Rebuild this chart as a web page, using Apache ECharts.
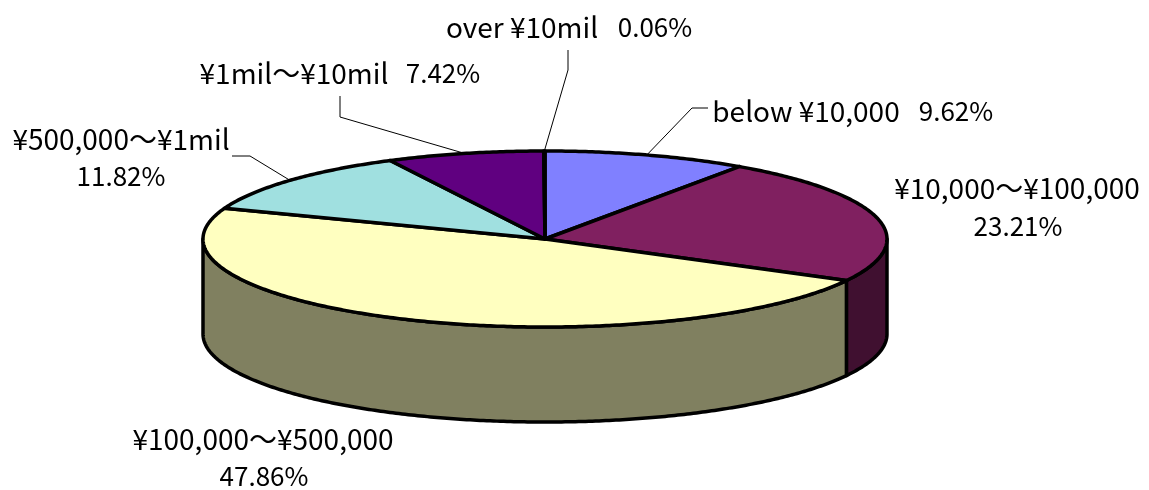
<!DOCTYPE html>
<html>
<head>
<meta charset="utf-8">
<style>html,body{margin:0;padding:0;background:#fff}#chart{width:1149px;height:490px}</style>
<script src="https://cdn.jsdelivr.net/npm/echarts@6/dist/echarts.min.js"></script>
</head>
<body>
<div id="chart"></div>
<script>
// Share of accounts by balance band, clockwise from twelve o'clock
const bands = ['below ¥10,000', '¥10,000～¥100,000', '¥100,000～¥500,000', '¥500,000～¥1mil', '¥1mil～¥10mil', 'over ¥10mil'];
const shares = [9.62, 23.21, 47.86, 11.82, 7.42, 0.06];
const topColors = ['#8080FF', '#802060', '#FFFFC0', '#A0E0E0', '#600080', '#FF8080'];
const wallColors = ['#404080', '#401030', '#808060', '#507070', '#300040', '#804040'];

// Disc geometry in pixels
const cx = 545, cy = 239, rx = 342, ry = 88, depth = 95;
const FONT = '"Noto Sans CJK JP", sans-serif';
const BAND_SIZE = 28, PCT_SIZE = 26;

// Label placement: centres of the band name and percent text, and the leader elbow points
const labelPlace = [
  { band: [806, 111], pct: [956, 111], leader: [[692, 108], [708, 108]] },
  { band: [1017, 188], pct: [1018, 226], leader: null },
  { band: [263, 439], pct: [264, 476], leader: null },
  { band: [121, 139], pct: [121, 176], leader: [[250, 156], [232, 156]] },
  { band: [294, 73], pct: [443, 73], leader: [[340, 117], [340, 96]] },
  { band: [522, 27], pct: [655, 27], leader: [[568, 70], [568, 50]] }
];

const total = shares.reduce((a, b) => a + b, 0);
const cumulative = shares.reduce((acc, v) => { acc.push(acc[acc.length - 1] + v); return acc; }, [0]);
const angleAt = s => (s / total) * Math.PI * 2;
const rim = (a, drop) => [cx + rx * Math.sin(a), cy - ry * Math.cos(a) + (drop || 0)];

function arc(a0, a1, drop) {
  const n = Math.max(2, Math.ceil((a1 - a0) / 0.01));
  const pts = [];
  for (let i = 0; i <= n; i++) pts.push(rim(a0 + (a1 - a0) * i / n, drop));
  return pts;
}

function renderSlice(params, api) {
  const i = params.dataIndex;
  const a0 = angleAt(cumulative[i]), a1 = angleAt(cumulative[i] + api.value(0));
  const children = [];
  // Only the near half of the rim (right extreme to left extreme) shows a wall
  const w0 = Math.max(a0, Math.PI / 2), w1 = Math.min(a1, Math.PI * 1.5);
  if (w1 > w0) {
    children.push({
      type: 'polygon',
      shape: { points: arc(w0, w1, 0).concat(arc(w0, w1, depth).reverse()) },
      style: { fill: wallColors[i], stroke: '#000', lineWidth: 3.5, lineJoin: 'round' }
    });
  }
  children.push({
    type: 'polygon',
    shape: { points: [[cx, cy]].concat(arc(a0, a1, 0)) },
    style: { fill: topColors[i], stroke: '#000', lineWidth: 3.5, lineJoin: 'round' }
  });
  return { type: 'group', children };
}

function renderLabel(params, api) {
  const i = params.dataIndex;
  const place = labelPlace[i];
  const textEl = (text, pos, size) => ({
    type: 'text',
    style: { text, x: pos[0], y: pos[1], align: 'center', verticalAlign: 'middle', fill: '#000', font: size + 'px ' + FONT }
  });
  const children = [
    textEl(bands[i], place.band, BAND_SIZE),
    textEl(api.value(0).toFixed(2) + '%', place.pct, PCT_SIZE)
  ];
  if (place.leader) {
    const mid = angleAt(cumulative[i] + shares[i] / 2);
    children.push({
      type: 'polyline',
      shape: { points: [rim(mid, 0)].concat(place.leader) },
      style: { fill: 'none', stroke: '#000', lineWidth: 1 }
    });
  }
  return { type: 'group', children };
}

const chart = echarts.init(document.getElementById('chart'), null, { renderer: 'canvas' });
chart.setOption({
  animation: false,
  backgroundColor: '#fff',
  series: [
    { type: 'custom', coordinateSystem: 'none', silent: true, z: 2, data: shares.map(v => [v]), renderItem: renderSlice },
    { type: 'custom', coordinateSystem: 'none', silent: true, z: 1, data: shares.map(v => [v]), renderItem: renderLabel }
  ]
});
</script>
</body>
</html>
